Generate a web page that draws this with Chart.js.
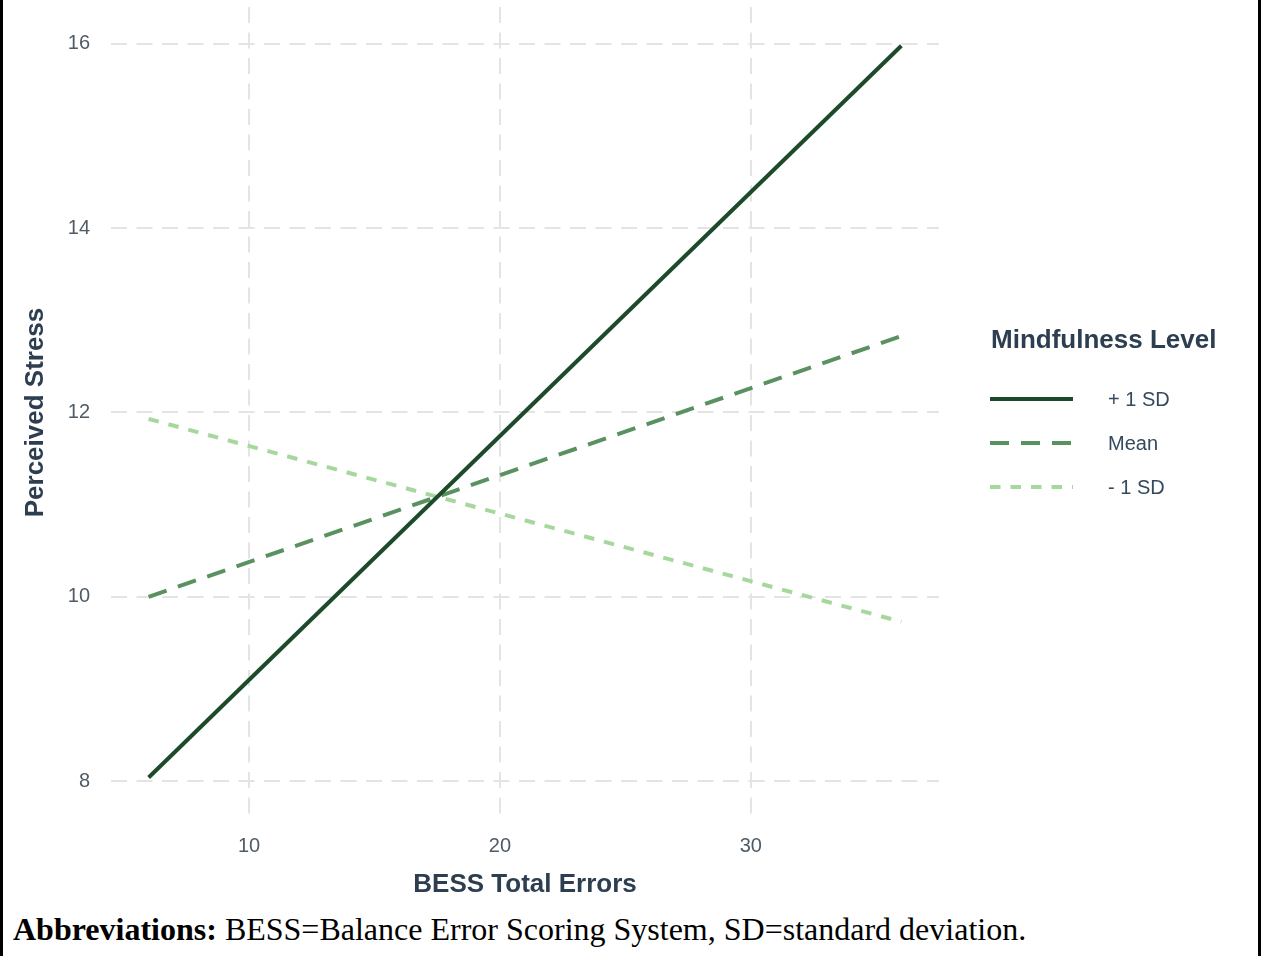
<!DOCTYPE html>
<html>
<head>
<meta charset="utf-8">
<script src="https://cdn.jsdelivr.net/npm/chart.js@4.4.1/dist/chart.umd.min.js"></script>
<style>
  html, body { margin: 0; padding: 0; background: #ffffff; }
  #page { position: relative; width: 1268px; height: 956px; overflow: hidden; background: #ffffff; }
  #plot { position: absolute; left: 0; top: 0; }
  .edge { position: absolute; top: 0; width: 3px; height: 956px; background: #000000; }
  #caption {
    position: absolute; left: 13px; top: 911px; white-space: nowrap;
    font-family: "Liberation Serif", "Times New Roman", serif; font-size: 32px; color: #000000;
  }
</style>
</head>
<body>
<div id="page">
  <canvas id="plot" width="1268" height="910"></canvas>
  <div class="edge" style="left:0"></div>
  <div class="edge" style="left:1258px"></div>
  <div id="caption"><b>Abbreviations:</b> BESS=Balance Error Scoring System, SD=standard deviation.</div>
</div>
<script>
// Simple slopes of perceived stress on BESS errors at three mindfulness levels
const bessErrors = [6, 36];
const stressPlusSD = [8.04, 15.98];
const stressMean = [10.0, 12.83];
const stressMinusSD = [11.93, 9.73];

const seriesLabels = ['+ 1 SD', 'Mean', '- 1 SD'];
const xTickValues = [10, 20, 30];
const yTickValues = [8, 10, 12, 14, 16];
const xTitle = 'BESS Total Errors';
const yTitle = 'Perceived Stress';
const legendTitle = 'Mindfulness Level';

const SANS = '"Liberation Sans", Arial, Helvetica, sans-serif';
const toPoints = ys => bessErrors.map((x, i) => ({ x: x, y: ys[i] }));

// Legend drawn to the right of the plotting area
const levelLegend = {
  id: 'levelLegend',
  afterDraw(chart) {
    const { ctx, chartArea } = chart;
    const x0 = chartArea.right + 51;
    ctx.save();
    ctx.textAlign = 'left';
    ctx.textBaseline = 'middle';
    ctx.fillStyle = '#2c3e50';
    ctx.font = 'bold 26px ' + SANS;
    ctx.fillText(legendTitle, x0 + 1, 341);
    chart.data.datasets.forEach((ds, i) => {
      const y = 399 + i * 44;
      ctx.strokeStyle = ds.borderColor;
      ctx.lineWidth = ds.borderWidth;
      ctx.lineCap = 'butt';
      ctx.setLineDash(ds.borderDash || []);
      ctx.beginPath();
      ctx.moveTo(x0, y);
      ctx.lineTo(x0 + 83, y);
      ctx.stroke();
      ctx.setLineDash([]);
      ctx.fillStyle = '#34495e';
      ctx.font = '20px ' + SANS;
      ctx.fillText(ds.label, x0 + 118, y + 1);
    });
    ctx.restore();
  }
};

new Chart(document.getElementById('plot'), {
  type: 'line',
  data: {
    datasets: [
      { label: seriesLabels[0], data: toPoints(stressPlusSD), borderColor: '#1c4a2a', borderWidth: 4, borderDash: [] },
      { label: seriesLabels[1], data: toPoints(stressMean), borderColor: '#5a9160', borderWidth: 4, borderDash: [19, 12] },
      { label: seriesLabels[2], data: toPoints(stressMinusSD), borderColor: '#a6d89e', borderWidth: 4, borderDash: [10.5, 10] }
    ]
  },
  options: {
    responsive: false,
    animation: false,
    devicePixelRatio: 1,
    layout: { padding: { left: 0, top: 7, right: 329, bottom: 0 } },
    elements: { point: { radius: 0, hoverRadius: 0 }, line: { tension: 0, borderCapStyle: 'butt', fill: false } },
    plugins: { legend: { display: false }, tooltip: { enabled: false } },
    scales: {
      x: {
        type: 'linear',
        min: 4.5,
        max: 37.5,
        afterBuildTicks: s => { s.ticks = xTickValues.map(v => ({ value: v })); },
        afterFit: s => { s.height = 92; s.paddingLeft = 0; s.paddingRight = 0; },
        grid: { color: '#e4e4e4', lineWidth: 2, drawTicks: false },
        border: { display: false, dash: [16, 9.5] },
        ticks: { color: '#4f5b66', font: { family: SANS, size: 20 }, padding: 16 },
        title: { display: true, text: xTitle, color: '#2c3e50', font: { family: SANS, size: 26, weight: 'bold' }, padding: { top: 0, bottom: 10 } }
      },
      y: {
        type: 'linear',
        min: 7.6,
        max: 16.4,
        afterBuildTicks: s => { s.ticks = yTickValues.map(v => ({ value: v })); },
        afterFit: s => { s.width = 111; s.paddingTop = 0; s.paddingBottom = 0; },
        grid: { color: '#e4e4e4', lineWidth: 2, drawTicks: false },
        border: { display: false, dash: [16, 9.5] },
        ticks: { color: '#4f5b66', font: { family: SANS, size: 20 }, padding: 21 },
        title: { display: true, text: yTitle, color: '#2c3e50', font: { family: SANS, size: 26, weight: 'bold' }, padding: { top: 20, bottom: 0 } }
      }
    }
  },
  plugins: [levelLegend]
});
</script>
</body>
</html>
